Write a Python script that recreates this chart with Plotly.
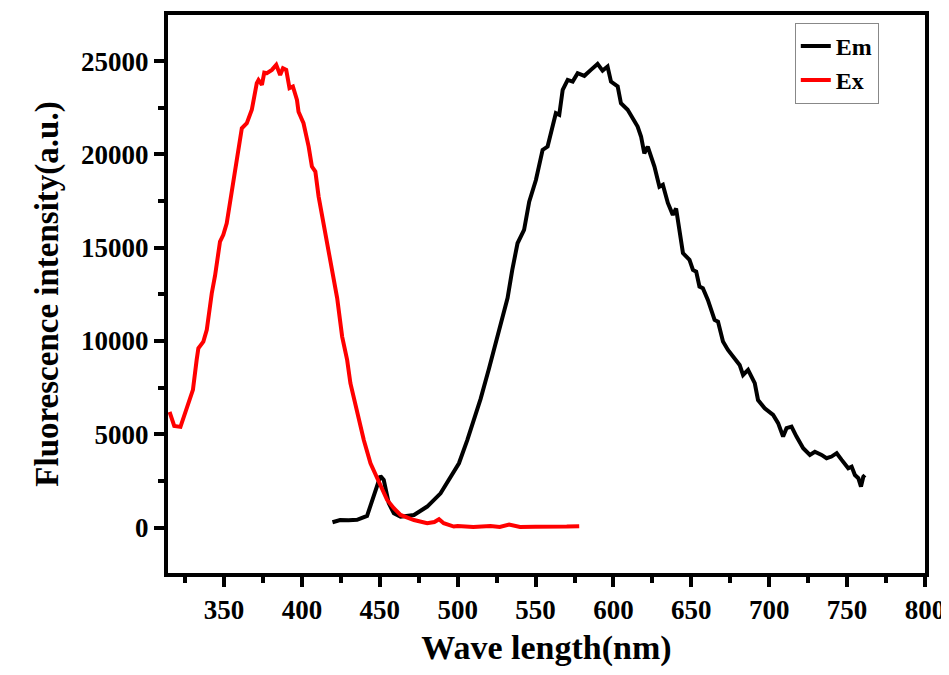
import plotly.graph_objects as go

# excitation spectrum (red)
ex_wl = [315, 318, 322, 327, 330, 332.4, 333.5, 336.7, 338.9, 342.1, 344.2, 347.4, 349.5,
         351.7, 355, 358.2, 361.4, 364.6, 367.8, 371, 372.1, 374.3, 375.8, 377.5, 380.7,
         383.5, 386, 387.8, 389.9, 392, 394.2, 396.8, 397.8, 401, 404.3, 406.4, 408.6,
         410.7, 413.9, 417.2, 420.4, 422.6, 425.8, 429, 431.1, 435.4, 439.7, 444, 449.3,
         454.7, 459, 463.3, 471.9, 480.4, 485, 488, 491, 497.5, 500, 510, 521, 527, 533,
         540, 550, 560, 570, 578]
ex_int = [6200, 5450, 5400, 6650, 7380, 8990, 9610, 9970, 10600, 12560, 13500, 15330, 15690,
          16310, 18100, 19700, 21400, 21670, 22390, 23820, 23990, 23730, 24380, 24350, 24530,
          24800, 24260, 24620, 24530, 23550, 23640, 22920, 22290, 21670, 20420, 19350, 19080,
          17740, 16310, 14880, 13450, 12300, 10240, 8990, 7740, 6130, 4700, 3450, 2470,
          1480, 1040, 680, 410, 240, 300, 450, 240, 60, 90, 40, 90, 40, 160,
          40, 50, 40, 60, 80]

# emission spectrum (black)
em_wl = [419.6, 424.5, 430, 435.4, 441.8, 446, 450.4, 452.5, 455.7, 459, 463.3, 471.9, 480.4,
         489, 495.4, 500.8, 506.2, 510.4, 514.7, 520, 526, 529, 532, 535, 538.4, 542.6,
         545.9, 550.2, 554.5, 557.7, 560.9, 563, 565.2, 567.4, 570.6, 573.8, 577, 581.3,
         585.5, 589.8, 593, 596.2, 598.4, 602.7, 604.8, 609.1, 615.5, 617.7, 619.8, 622,
         626.3, 629.5, 631.7, 634.9, 638.1, 640.2, 644.6, 648.8, 651, 653.1, 655.2, 657.4,
         660.6, 664.9, 667.1, 670.3, 673.5, 677.8, 681, 683.2, 686.4, 690.7, 692.8, 697.1,
         702.5, 705.7, 708.9, 711.1, 714.3, 717.5, 721.8, 726.1, 729.3, 733.6, 736.8, 740,
         743.3, 746.5, 750.7, 752.9, 755, 757.2, 758.9, 760.4, 761.4]
em_int = [290, 410, 400, 420, 630, 1660, 2770, 2560, 1310, 770, 590, 680, 1130,
          1840, 2730, 3450, 4700, 5770, 6900, 8500, 10300, 11300, 12300, 13800, 15240, 15950,
          17470, 18630, 20240, 20420, 21490, 22210, 22120, 23460, 23990, 23900, 24350, 24210,
          24530, 24850, 24490, 24710, 23900, 23640, 22740, 22390, 21490, 20960, 20060, 20420,
          19350, 18270, 18370, 17400, 16760, 17100, 14710, 14350, 13810, 13720, 12920, 12830,
          12200, 11130, 11040, 9970, 9520, 9080, 8720, 8180, 8450, 7740, 6840, 6400,
          6040, 5600, 4880, 5330, 5410, 4880, 4260, 3900, 4070, 3900, 3720, 3810,
          3990, 3630, 3180, 3270, 2820, 2650, 2200, 2730, 2820]

serif = "Liberation Serif, Times New Roman, serif"

trace_em = go.Scatter(x=em_wl, y=em_int, mode='lines', name='Em',
                      line=dict(color='black', width=4))
trace_ex = go.Scatter(x=ex_wl, y=ex_int, mode='lines', name='Ex',
                      line=dict(color='#ff0000', width=4))

axis_common = dict(showline=True, linecolor='black', linewidth=4, mirror=True,
                   showgrid=False, zeroline=False, ticks='outside', ticklen=10,
                   tickwidth=4, tickcolor='black', automargin=False,
                   tickfont=dict(family=serif, size=27, color='black', weight='bold'))

# page body has an 8px margin, so the figure is sized to avoid scrollbars
layout = go.Layout(
    width=941, height=659,
    paper_bgcolor='white', plot_bgcolor='white',
    margin=dict(l=160, r=24, t=7, b=94),
    xaxis=dict(range=[314, 800], dtick=50, tick0=0,
               minor=dict(ticks='outside', ticklen=6, tickwidth=4, dtick=25, tickcolor='black'),
               title=dict(text='Wave length(nm)', standoff=27,
                          font=dict(family=serif, size=34, color='black', weight='bold')),
               **axis_common),
    yaxis=dict(range=[-2430, 27470], dtick=5000, tick0=0, tickformat='d',
               minor=dict(ticks='outside', ticklen=6, tickwidth=4, dtick=2500, tickcolor='black'),
               title=dict(text='Fluorescence intensity(a.u.)', standoff=14,
                          font=dict(family=serif, size=33, color='black', weight='bold')),
               **axis_common),
    legend=dict(x=0.828, y=0.986, xanchor='left', yanchor='top',
                bgcolor='white', bordercolor='#888888', borderwidth=1,
                font=dict(family=serif, size=24, color='black', weight='bold'),
                tracegroupgap=0),
    showlegend=True,
)

fig = go.Figure(data=[trace_em, trace_ex], layout=layout)
fig.write_html("out.html")
